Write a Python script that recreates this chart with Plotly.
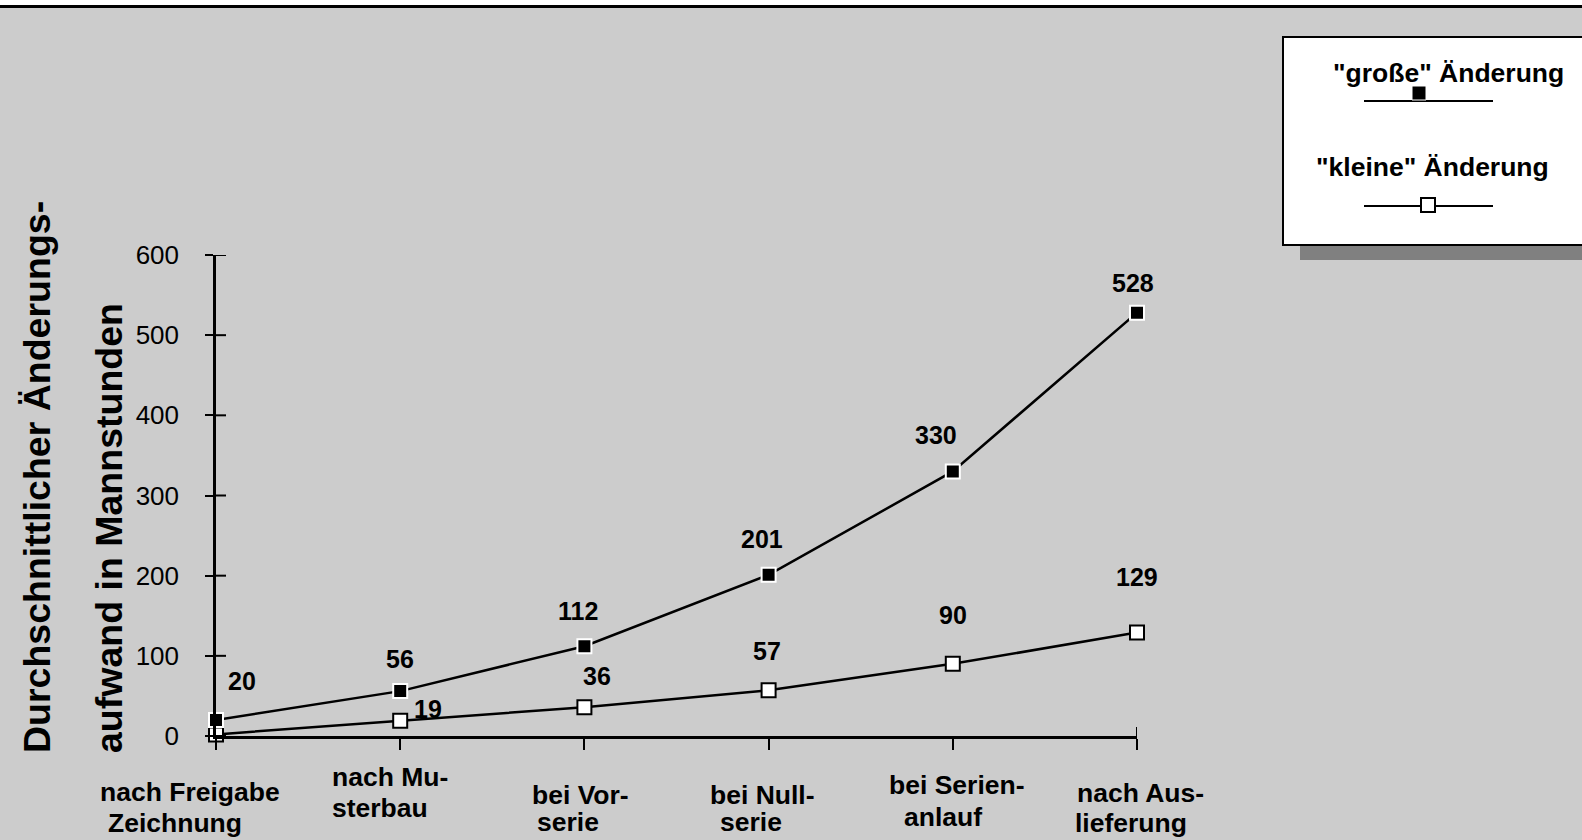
import plotly.graph_objects as go

# ---- data ----
categories = ["nach Freigabe Zeichnung", "nach Musterbau", "bei Vorserie",
              "bei Nullserie", "bei Serienanlauf", "nach Auslieferung"]
label_line1 = ["nach Freigabe", "nach Mu-", "bei Vor-", "bei Null-", "bei Serien-", "nach Aus-"]
label_line2 = ["Zeichnung", "sterbau", "serie", "serie", "anlauf", "lieferung"]
grosse = [20, 56, 112, 201, 330, 528]
kleine = [2, 19, 36, 57, 90, 129]
grosse_labels = ["20", "56", "112", "201", "330", "528"]
kleine_labels = ["", "19", "36", "57", "90", "129"]
y_ticks = [0, 100, 200, 300, 400, 500, 600]

# ---- label placement (pixel offsets) ----
g_off = [(26, -39), (0, -32), (-6, -35), (-7, -36), (-17, -36), (-4, -30)]
k_off = [(0, 0), (28, -12), (13, -31), (-2, -39), (0, -49), (0, -56)]
l1_off = [(-26, 792), (-10, 777), (-4, 795), (-6, 795), (4, 785), (3, 793)]
l2_off = [(-41, 823), (-20, 808), (-16, 822), (-18, 822), (-10, 817), (-6, 823)]

W, H = 1582, 840
BG = "#cccccc"
FONT = "Liberation Sans"
x_idx = list(range(len(categories)))

X0, X1 = 216, 1137
Y0, Y1 = 736, 255
xdom = [X0 / W, X1 / W]
ydom = [(H - Y0) / H, (H - Y1) / H]

fig = go.Figure()
fig.add_trace(go.Scatter(
    x=x_idx, y=kleine, mode="lines+markers", cliponaxis=False,
    line=dict(color="black", width=2.5),
    marker=dict(symbol="square", size=14, color="white", line=dict(color="black", width=2)),
    showlegend=False, hoverinfo="skip"))
fig.add_trace(go.Scatter(
    x=x_idx, y=grosse, mode="lines+markers", cliponaxis=False,
    line=dict(color="black", width=2.5),
    marker=dict(symbol="square", size=14, color="black", line=dict(color="white", width=2)),
    showlegend=False, hoverinfo="skip"))

ann = []
bold = dict(family=FONT, size=25, color="black", weight="bold")
bold_lbl = dict(family=FONT, size=26.5, color="black", weight="bold")
for i, (v, t) in enumerate(zip(grosse, grosse_labels)):
    if t:
        ann.append(dict(x=i, y=v, xref="x", yref="y", text=t, showarrow=False,
                        xanchor="center", yanchor="middle",
                        xshift=g_off[i][0], yshift=-g_off[i][1], font=bold))
for i, (v, t) in enumerate(zip(kleine, kleine_labels)):
    if t:
        ann.append(dict(x=i, y=v, xref="x", yref="y", text=t, showarrow=False,
                        xanchor="center", yanchor="middle",
                        xshift=k_off[i][0], yshift=-k_off[i][1], font=bold))
for i in x_idx:
    ann.append(dict(x=i, xref="x", y=(H - l1_off[i][1]) / H, yref="paper",
                    text=label_line1[i], showarrow=False, xshift=l1_off[i][0],
                    xanchor="center", yanchor="middle", font=bold_lbl))
    ann.append(dict(x=i, xref="x", y=(H - l2_off[i][1]) / H, yref="paper",
                    text=label_line2[i], showarrow=False, xshift=l2_off[i][0],
                    xanchor="center", yanchor="middle", font=bold_lbl))

# y title (two lines, left aligned -> bottom aligned when rotated)
ytitle_font = dict(family=FONT, size=37.5, color="black", weight="bold")
ann.append(dict(x=37 / W, y=(H - 755) / H, xref="paper", yref="paper",
                text="Durchschnittlicher Änderungs-", textangle=-90, showarrow=False,
                xanchor="center", yanchor="bottom", font=ytitle_font))
ann.append(dict(x=109 / W, y=(H - 755) / H, xref="paper", yref="paper",
                text="aufwand in Mannstunden", textangle=-90, showarrow=False,
                xanchor="center", yanchor="bottom", font=ytitle_font))

# legend (drawn manually)
LX0, LY0, LY1 = 1283, 37, 245
shapes = [
    dict(type="rect", xref="paper", yref="paper", x0=0, x1=1, y0=(H - 5) / H, y1=1,
         fillcolor="white", line_width=0, layer="below"),
    dict(type="line", xref="paper", yref="paper", x0=0, x1=1, y0=(H - 6.5) / H, y1=(H - 6.5) / H,
         line=dict(color="black", width=3)),
    dict(type="rect", xref="paper", yref="paper", x0=(LX0 + 17) / W, x1=1.01,
         y0=(H - LY1 - 15) / H, y1=(H - LY0 - 15) / H,
         fillcolor="#808080", line_width=0),
    dict(type="rect", xref="paper", yref="paper", x0=LX0 / W, x1=1.01,
         y0=(H - LY1) / H, y1=(H - LY0) / H,
         fillcolor="white", line=dict(color="black", width=2)),
    dict(type="line", xref="paper", yref="paper", x0=1364 / W, x1=1493 / W,
         y0=(H - 101) / H, y1=(H - 101) / H, line=dict(color="black", width=2)),
    dict(type="line", xref="paper", yref="paper", x0=1364 / W, x1=1493 / W,
         y0=(H - 206) / H, y1=(H - 206) / H, line=dict(color="black", width=2)),
    dict(type="rect", xref="paper", yref="paper", x0=1412 / W, x1=1426 / W,
         y0=(H - 100) / H, y1=(H - 86) / H, fillcolor="black", line=dict(color="white", width=1)),
    dict(type="rect", xref="paper", yref="paper", x0=1421 / W, x1=1435 / W,
         y0=(H - 212) / H, y1=(H - 198) / H, fillcolor="white", line=dict(color="black", width=2)),
]
# crossing tick parts (inside the plot) for the y axis and the last x tick
for v in y_ticks:
    shapes.append(dict(type="line", xref="x", xsizemode="pixel", xanchor=0, x0=0, x1=10,
                       yref="y", y0=v, y1=v, line=dict(color="black", width=2)))
shapes.append(dict(type="line", xref="x", x0=x_idx[-1], x1=x_idx[-1],
                   yref="y", ysizemode="pixel", yanchor=0, y0=0, y1=9,
                   line=dict(color="black", width=2)))

ann.append(dict(x=1448 / W, y=(H - 73) / H, xref="paper", yref="paper",
                xanchor="center", yanchor="middle",
                text='"große" Änderung', showarrow=False, font=bold_lbl))
ann.append(dict(x=1432 / W, y=(H - 167) / H, xref="paper", yref="paper",
                xanchor="center", yanchor="middle",
                text='"kleine" Änderung', showarrow=False, font=bold_lbl))

fig.update_layout(
    width=W, height=H, autosize=False,
    margin=dict(l=0, r=0, t=0, b=0, pad=0),
    paper_bgcolor=BG, plot_bgcolor=BG,
    showlegend=False,
    xaxis=dict(domain=xdom, range=[0, 5], tickvals=x_idx, ticktext=[""] * 6, automargin=False,
               showgrid=False, zeroline=False, showline=True, linecolor="black", linewidth=2.5,
               ticks="outside", ticklen=11, tickwidth=2, tickcolor="black", fixedrange=True),
    yaxis=dict(domain=ydom, range=[0, 600], tickvals=y_ticks, automargin=False,
               showgrid=False, zeroline=False, showline=True, linecolor="black", linewidth=2.5,
               ticks="outside", ticklen=8, tickwidth=2, tickcolor="black",
               ticklabelstandoff=21, fixedrange=True,
               tickfont=dict(family=FONT, size=26, color="black")),
    annotations=ann, shapes=shapes,
)

fig.write_html("out.html")
